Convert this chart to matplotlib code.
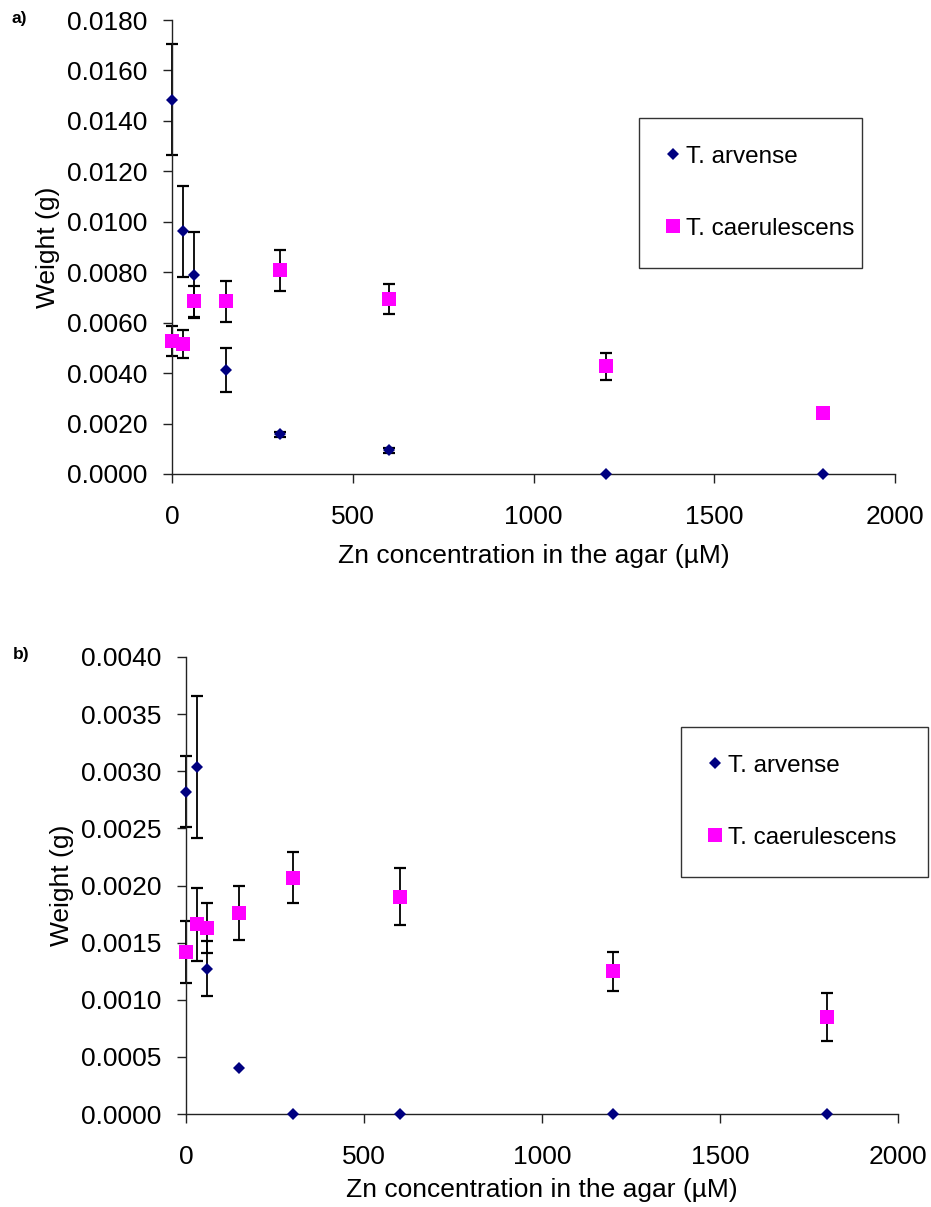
import numpy as np
import matplotlib
matplotlib.use("Agg")
import matplotlib.pyplot as plt
from matplotlib.ticker import FormatStrFormatter

plt.rcParams['font.family'] = ['Liberation Sans', 'DejaVu Sans']

# Zn concentrations in the agar (uM)
zn = [0, 30, 60, 150, 300, 600, 1200, 1800]
species = ["T. arvense", "T. caerulescens"]

# panel a) weights (g) and standard errors
arvenseA = [0.01483, 0.00963, 0.00790, 0.00412, 0.00158, 0.00095, 0.0, 0.0]
arvenseErrA = [0.00220, 0.00180, 0.00170, 0.00088, 0.00010, 0.00010, 0.0, 0.0]
caerA = [0.00526, 0.00515, 0.00684, 0.00684, 0.00807, 0.00693, 0.00427, 0.00240]
caerErrA = [0.00060, 0.00055, 0.00060, 0.00080, 0.00080, 0.00060, 0.00054, 0.0]

# panel b) weights (g) and standard errors
arvenseB = [0.00282, 0.00304, 0.00127, 0.00040, 0.0, 0.0, 0.0, 0.0]
arvenseErrB = [0.00031, 0.00062, 0.00024, 0.0, 0.0, 0.0, 0.0, 0.0]
caerB = [0.00142, 0.00166, 0.00163, 0.00176, 0.00207, 0.00190, 0.00125, 0.00085]
caerErrB = [0.00027, 0.00032, 0.00022, 0.00024, 0.00022, 0.00025, 0.00017, 0.00021]

yTopA, yStepA = 0.018, 0.002
yTopB, yStepB = 0.004, 0.0005

W, H = 931, 1207
fig = plt.figure(figsize=(W / 100, H / 100), dpi=100)


def px_box(left, top, right, bottom):
    # axes rectangle in figure fractions from pixel edges
    return [left / W, 1 - bottom / H, (right - left) / W, (bottom - top) / H]


def draw_panel(ax, arv, arvErr, caer, caerErr, yTop, yStep, legBox, xLabelPad):
    # error bars first so the markers sit on top
    for vals, errs in ((arv, arvErr), (caer, caerErr)):
        e = np.array(errs)
        keep = e > 0
        eb = ax.errorbar(np.array(zn)[keep], np.array(vals)[keep], yerr=e[keep], fmt='none',
                         ecolor='black', elinewidth=1.3, capsize=4.6, capthick=1.6, zorder=2)
        for art in eb.lines[1] + eb.lines[2]:
            art.set_clip_on(False)
    ax.plot(zn, arv, linestyle='none', marker='D', markersize=6.2, mew=0,
            color='#000080', label=species[0], clip_on=False, zorder=4)
    ax.plot(zn, caer, linestyle='none', marker='s', markersize=10, mew=0,
            color='#FF00FF', label=species[1], clip_on=False, zorder=3)

    ax.set_xlim(0, 2000)
    ax.set_ylim(0, yTop)
    ax.set_xticks(np.arange(0, 2001, 500))
    ax.set_yticks(np.arange(0, yTop + yStep / 2, yStep))
    ax.yaxis.set_major_formatter(FormatStrFormatter('%.4f'))
    for side in ('top', 'right'):
        ax.spines[side].set_visible(False)
    for side in ('left', 'bottom'):
        ax.spines[side].set_linewidth(1.0)
        ax.spines[side].set_color('#222222')
    ax.tick_params(axis='both', direction='out', length=6.5, width=1.0, color='#222222', labelsize=19)
    ax.tick_params(axis='y', pad=11)
    ax.tick_params(axis='x', pad=15.5)
    ax.set_xlabel("Zn concentration in the agar (\u00b5M)", fontsize=19, labelpad=xLabelPad)
    ax.set_ylabel("Weight (g)", fontsize=19, labelpad=5)

    # legend box placed in figure pixels
    x0, top, x1 = legBox
    leg = ax.legend(loc='upper left', bbox_to_anchor=(x0 / W, 1 - top / H, (x1 - x0) / W, 0),
                    bbox_transform=fig.transFigure, mode='expand', borderaxespad=0,
                    fontsize=17.5, numpoints=1, handlelength=0.5, handletextpad=0.3,
                    labelspacing=2.05, borderpad=1.15, fancybox=False, framealpha=1)
    leg.get_frame().set_edgecolor('#333333')
    leg.get_frame().set_linewidth(1.0)


axA = fig.add_axes(px_box(172, 20, 895, 474))
draw_panel(axA, arvenseA, arvenseErrA, caerA, caerErrA, yTopA, yStepA, (639, 118, 862), 11)

axB = fig.add_axes(px_box(186, 657, 898, 1114))
draw_panel(axB, arvenseB, arvenseErrB, caerB, caerErrB, yTopB, yStepB, (681, 727, 928), 7)

fig.text(12 / W, 1 - 18 / H, "a)", fontsize=12.5, weight='bold', va='center')
fig.text(13 / W, 1 - 655 / H, "b)", fontsize=12.5, weight='bold', va='center')

fig.savefig("out.png", dpi=100)
